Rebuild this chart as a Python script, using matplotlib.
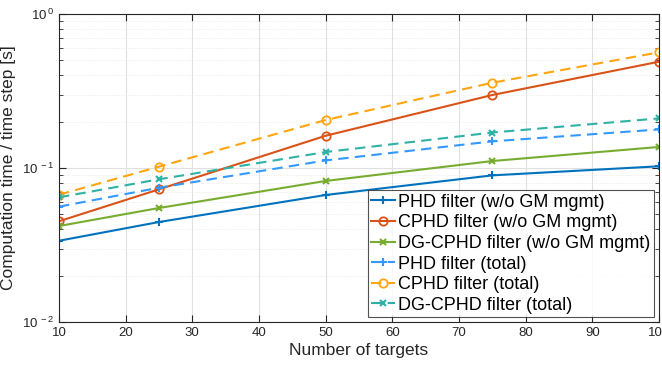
import numpy as np
import matplotlib
matplotlib.use('Agg')
import matplotlib.pyplot as plt
from matplotlib.ticker import LogLocator, NullFormatter, FuncFormatter

plt.rcParams['font.family'] = ['Liberation Sans', 'DejaVu Sans']
plt.rcParams['mathtext.fontset'] = 'custom'
plt.rcParams['mathtext.rm'] = 'Liberation Sans'

targets = [10, 25, 50, 75, 100]

phd_wo = [0.0337, 0.0446, 0.0668, 0.0896, 0.1026]
cphd_wo = [0.0451, 0.0727, 0.162, 0.298, 0.490]
dgcphd_wo = [0.0420, 0.0550, 0.0824, 0.111, 0.137]
phd_tot = [0.0561, 0.0745, 0.112, 0.149, 0.178]
cphd_tot = [0.0671, 0.102, 0.205, 0.358, 0.564]
dgcphd_tot = [0.0645, 0.0845, 0.127, 0.170, 0.210]

labels = ['PHD filter (w/o GM mgmt)', 'CPHD filter (w/o GM mgmt)',
          'DG-CPHD filter (w/o GM mgmt)', 'PHD filter (total)',
          'CPHD filter (total)', 'DG-CPHD filter (total)']

fig = plt.figure(figsize=(6.62, 3.65), dpi=100)
ax = fig.add_axes([0.0891, 0.1178, 0.9064, 0.8438])

ax.plot(targets, phd_wo, '-', marker='+', color='#0072BD', lw=1.5, ms=6, mew=1.5, label=labels[0])
ax.plot(targets, cphd_wo, '-', marker='o', mfc='none', color='#D95319', lw=1.5, ms=6, mew=1.3, label=labels[1])
ax.plot(targets, dgcphd_wo, '-', marker='x', color='#77AC30', lw=1.5, ms=4.5, mew=1.5, label=labels[2])
ax.plot(targets, phd_tot, '--', marker='+', color='#3399FF', lw=1.5, ms=6, mew=1.5, dashes=(5, 3), label=labels[3])
ax.plot(targets, cphd_tot, '--', marker='o', mfc='none', color='#FFA510', lw=1.5, ms=6, mew=1.3, dashes=(5, 3), label=labels[4])
ax.plot(targets, dgcphd_tot, '--', marker='x', color='#2DB2A5', lw=1.5, ms=4.5, mew=1.5, dashes=(5, 3), label=labels[5])

ax.set_yscale('log')
ax.set_xlim(10, 100)
ax.set_ylim(1e-2, 1)
ax.set_xticks(range(10, 101, 10))
ax.yaxis.set_major_locator(LogLocator(base=10, numticks=5))
ax.yaxis.set_minor_locator(LogLocator(base=10, subs=np.arange(2, 10), numticks=20))
ax.yaxis.set_minor_formatter(NullFormatter())
ax.yaxis.set_major_formatter(FuncFormatter(lambda v, p: r'10$^{\,%d}$' % int(round(np.log10(v)))))

# grid like matlab: solid major, dotted minor
ax.grid(True, which='major', color='#e0e0e0', lw=0.8)
ax.grid(True, which='minor', axis='y', color='#e6e6e6', lw=0.6, linestyle=':')
ax.set_axisbelow(True)
ax.tick_params(which='both', direction='in', top=True, right=True, labelsize=9.5, colors='#262626')
ax.tick_params(which='major', length=5)
ax.tick_params(which='minor', length=3)
for s in ax.spines.values():
    s.set_color('#262626')
    s.set_linewidth(0.8)

ax.set_xlabel('Number of targets', fontsize=12.5, color='#262626', labelpad=3)
ax.set_ylabel('Computation time / time step [s]', fontsize=12.5, color='#262626', labelpad=4)

leg = ax.legend(loc='lower right', bbox_to_anchor=(0.992, 0.015), fontsize=13, frameon=True,
                fancybox=False, edgecolor='#262626', handlelength=1.3, handletextpad=0.2,
                borderpad=0.2, labelspacing=0.2, borderaxespad=0)
leg.get_frame().set_linewidth(0.8)

fig.savefig('out.png', dpi=100)
